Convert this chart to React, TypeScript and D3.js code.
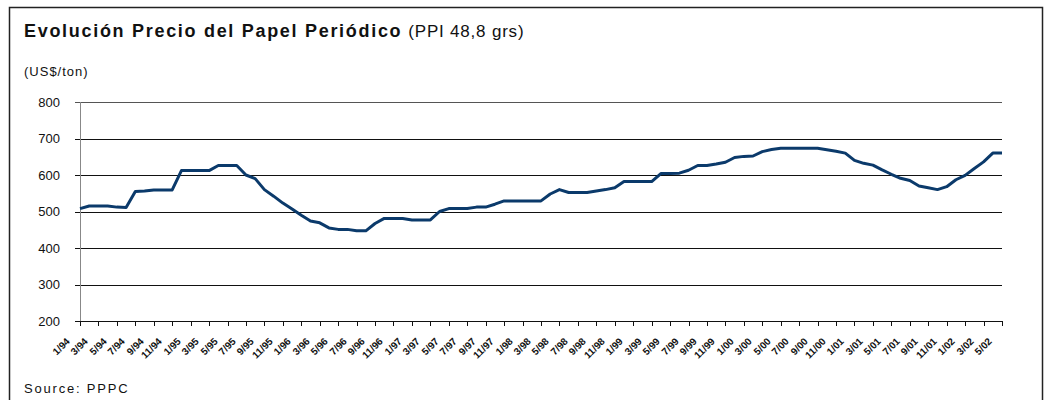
import React from "react";
import { scaleLinear, line, curveLinear } from "d3";

// monthly price, Jan 94 .. May 02 (US$/ton)
const prices = [
  508, 515, 515, 515, 512, 511, 555, 556, 559, 559,
  559, 612, 612, 612, 612, 626, 626, 626, 600, 590,
  560, 542, 523, 507, 490, 474, 469, 455, 451, 451,
  447, 447, 467, 481, 481, 481, 477, 477, 477, 500,
  508, 508, 508, 512, 512, 520, 529, 529, 529, 529,
  529, 548, 560, 552, 552, 552, 556, 560, 565, 582,
  582, 582, 582, 604, 604, 605, 613, 626, 626, 630,
  635, 648, 651, 652, 664, 670, 673, 673, 673, 673,
  673, 669, 665, 660, 640, 632, 627, 614, 602, 591,
  585, 570, 565, 560, 568, 587, 599, 618, 636, 660,
  660
];

// one label every second month
const tickLabels = [
  "1/94", "3/94", "5/94", "7/94", "9/94", "11/94",
  "1/95", "3/95", "5/95", "7/95", "9/95", "11/95",
  "1/96", "3/96", "5/96", "7/96", "9/96", "11/96",
  "1/97", "3/97", "5/97", "7/97", "9/97", "11/97",
  "1/98", "3/98", "5/98", "7/98", "9/98", "11/98",
  "1/99", "3/99", "5/99", "7/99", "9/99", "11/99",
  "1/00", "3/00", "5/00", "7/00", "9/00", "11/00",
  "1/01", "3/01", "5/01", "7/01", "9/01", "11/01",
  "1/02", "3/02", "5/02"
];

const yTicks = [200, 300, 400, 500, 600, 700, 800];

const W = 1047;
const H = 400;
const left = 80;
const right = 1002;
const top = 102;
const bottom = 321;

export default function App() {
  const x = scaleLinear().domain([0, prices.length - 1]).range([left, right]);
  const y = scaleLinear().domain([200, 800]).range([bottom, top]);

  const path = line<number>()
    .x((d, i) => x(i))
    .y(d => y(d))
    .curve(curveLinear)(prices);

  const font = "'Liberation Sans', Arial, sans-serif";

  return (
    <svg
      width={W}
      height={H}
      style={{ position: "absolute", left: 0, top: 0, background: "#fff" }}
      fontFamily={font}
    >
      <rect x={9.5} y={7.5} width={1033} height={400} fill="none" stroke="#222" strokeWidth={1.5} />

      <text x={24} y={37} fontSize={18} fontWeight="bold" letterSpacing={1.7} fill="#111">
        Evolución Precio del Papel Periódico
        <tspan fontWeight="normal" fontSize={17} letterSpacing={0.8} dx={6}>
          (PPI 48,8 grs)
        </tspan>
      </text>
      <text x={24} y={76} fontSize={13} letterSpacing={1} fill="#111">
        (US$/ton)
      </text>

      {/* grid + y ticks */}
      {yTicks.map(t => (
        <g key={t}>
          <line
            x1={left - 5}
            x2={right}
            y1={Math.round(y(t)) + 0.5}
            y2={Math.round(y(t)) + 0.5}
            stroke={t === 800 ? "#555" : "#111"}
            strokeWidth={1}
          />
          <text x={60} y={y(t) + 4.5} fontSize={13} textAnchor="end" fill="#111">
            {t}
          </text>
        </g>
      ))}
      <line x1={left + 0.5} x2={left + 0.5} y1={top} y2={bottom} stroke="#888" />

      {/* x ticks + labels */}
      {tickLabels.map((lab, k) => {
        const px = Math.round(x(k * 2)) + 0.5;
        return (
          <g key={lab}>
            <line x1={px} x2={px} y1={bottom} y2={bottom + 5} stroke="#111" />
            <text
              transform={`translate(${px - 10},${342}) rotate(-45)`}
              fontSize={10}
              fontWeight="bold"
              textAnchor="end"
              fill="#111"
            >
              {lab}
            </text>
          </g>
        );
      })}

      <path d={path ?? ""} fill="none" stroke="#0b3a6b" strokeWidth={3} strokeLinejoin="round" />

      <text x={24} y={393} fontSize={13} letterSpacing={1.8} fill="#111">
        Source: PPPC
      </text>
    </svg>
  );
}
